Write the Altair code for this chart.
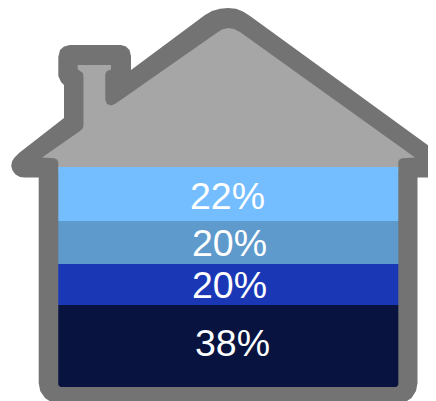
import altair as alt

# Shares, top of the house to the bottom
labels = ["22%", "20%", "20%", "38%"]
band_colors = ["#74BEFF", "#5E9ACB", "#1A38B5", "#08133F"]
band_tops = [167, 221, 264, 305]
band_bottoms = [221, 264, 305, 387]
label_x = [227.5, 229.5, 229.5, 232.5]
label_y = [197.5, 244.5, 286.5, 345]
wall_left = 58.3
wall_right = 398.3

outline = [
    [38.7, 383], [38.7, 177.5], [25, 177.5], [20, 177], [15.5, 174.5], [12.5, 170.5], [11.2, 166],
    [12, 161.5], [14.5, 157.5], [19, 153], [64, 118], [64, 85], [61, 82], [58.3, 76], [58.3, 57],
    [60, 50], [64, 46.5], [70, 45], [121, 45], [126, 46.5], [129.5, 50], [131, 56], [131, 70],
    [205, 15], [212, 11], [220, 8.7], [228, 8], [236, 8.7], [243, 11.5], [250, 16], [436, 151],
    [440, 153], [446, 163], [446, 170], [440, 177.5], [417.5, 177.5], [417.5, 383], [416, 391],
    [411.5, 398], [404, 403], [395.5, 405], [61, 405], [52.5, 403], [45, 398], [40.2, 391], [38.7, 383],
]
interior = [
    [58.3, 170], [58.3, 162], [57, 159.5], [54.5, 158.3], [42, 157.5], [80, 131], [83, 128], [83.5, 125],
    [83.5, 78], [83, 73], [80, 71], [77.7, 69], [77.7, 65], [111, 65], [111, 69.5], [107, 71], [105.3, 74],
    [105.3, 100], [107, 104], [111, 105.5], [115, 104], [218, 32], [222, 29.5], [228, 28], [234, 29],
    [240, 32], [415, 157.5], [402, 158.3], [399.5, 159.5], [398.3, 162], [398.3, 170], [58.3, 170],
]


def polygon(ring):
    return {"type": "Feature", "properties": {}, "geometry": {"type": "Polygon", "coordinates": [ring]}}


W, H = 420, 393
projection = dict(type="identity", scale=1, translate=[-8, -8])
x_scale = alt.Scale(domain=[8, 8 + W], nice=False, zero=False)
y_scale = alt.Scale(domain=[8 + H, 8], nice=False, zero=False)

body = (
    alt.Chart(alt.Data(values=[polygon(outline)]))
    .mark_geoshape(fill="#737373", stroke=None, clip=True)
    .project(**projection)
)
attic = (
    alt.Chart(alt.Data(values=[polygon(interior)]))
    .mark_geoshape(fill="#A6A6A6", stroke=None, clip=True)
    .project(**projection)
)

bands = [
    {"label": l, "top": t, "bottom": b, "color": c, "left": wall_left, "right": wall_right, "lx": lx, "ly": ly}
    for l, t, b, c, lx, ly in zip(labels, band_tops, band_bottoms, band_colors, label_x, label_y)
]
source = alt.Data(values=bands)

rects = alt.Chart(alt.Data(values=bands[:3])).mark_rect().encode(
    x=alt.X("left:Q", scale=x_scale, axis=None),
    x2="right:Q",
    y=alt.Y("top:Q", scale=y_scale, axis=None),
    y2="bottom:Q",
    color=alt.Color("color:N", scale=None),
)
bottom_band = alt.Chart(alt.Data(values=bands[3:])).mark_bar(
    cornerRadiusBottomLeft=3, cornerRadiusBottomRight=3
).encode(
    x=alt.X("left:Q", scale=x_scale, axis=None),
    x2="right:Q",
    y=alt.Y("top:Q", scale=y_scale, axis=None),
    y2="bottom:Q",
    color=alt.Color("color:N", scale=None),
)
texts = alt.Chart(source).mark_text(
    font="Liberation Sans", fontSize=37.5, color="white", align="center", baseline="middle"
).encode(
    x=alt.X("lx:Q", scale=x_scale, axis=None),
    y=alt.Y("ly:Q", scale=y_scale, axis=None),
    text="label:N",
)

chart = (
    alt.layer(body, attic, rects, bottom_band, texts)
    .properties(width=W, height=H, padding=0, background="white", autosize=alt.AutoSizeParams(type="none"))
    .configure_view(stroke=None)
)
chart.save("out.html", embed_options={"renderer": "svg", "actions": False})
